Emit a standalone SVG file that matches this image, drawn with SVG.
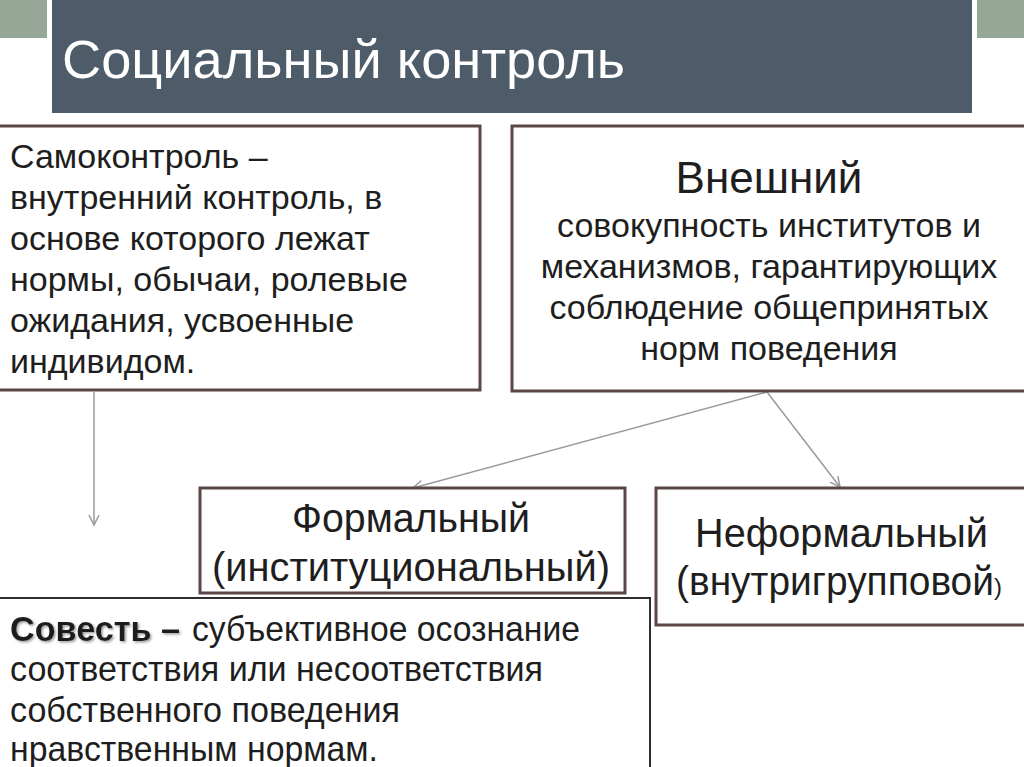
<svg xmlns="http://www.w3.org/2000/svg" width="1024" height="767" viewBox="0 0 1024 767">
<style>
.box{fill:#fff;stroke:#5a4644;stroke-width:3}
.t{font-family:"Liberation Sans",Arial,sans-serif;fill:#1e1e1e}
.n{font-family:"Liberation Sans",Arial,sans-serif;fill:#1e1e1e}
.c{stroke:#9a9a9a;stroke-width:1.5;fill:none}
</style>
<defs>
<marker id="ah" markerWidth="14" markerHeight="14" refX="12" refY="7" orient="auto" markerUnits="userSpaceOnUse">
<path d="M2,2 L12,7 L2,12" fill="none" stroke="#9a9a9a" stroke-width="1.5"/>
</marker>
<filter id="sh" x="-5%" y="-20%" width="120%" height="150%">
<feDropShadow dx="1.5" dy="1.5" stdDeviation="1" flood-color="#888" flood-opacity="0.8"/>
</filter>
</defs>
<rect width="1024" height="767" fill="#fff"/>
<g id="header">
<rect x="0" y="0" width="47" height="38" fill="#97a797"/>
<rect x="977" y="0" width="47" height="38" fill="#97a797"/>
<rect x="52" y="0" width="920" height="113" fill="#4e5b68"/>
<text x="62" y="78" font-family="Liberation Sans,Arial,sans-serif" font-size="54" fill="#fff" textLength="563" lengthAdjust="spacingAndGlyphs">Социальный контроль</text>
</g>
<g id="connectors">
<line class="c" x1="94" y1="392" x2="94" y2="525" marker-end="url(#ah)"/>
<line class="c" x1="767" y1="392" x2="413" y2="488" marker-end="url(#ah)"/>
<line class="c" x1="767" y1="392" x2="840" y2="487" marker-end="url(#ah)"/>
</g>
<g id="self-control">
<rect class="box" x="-3" y="126" width="483" height="264"/>
<g class="t" font-size="34">
<text x="10" y="168">Самоконтроль –</text>
<text x="10" y="209">внутренний контроль, в</text>
<text x="10" y="250">основе которого лежат</text>
<text x="10" y="291">нормы, обычаи, ролевые</text>
<text x="10" y="332">ожидания, усвоенные</text>
<text x="10" y="373">индивидом.</text>
</g>
</g>
<g id="external">
<rect class="box" x="512" y="126" width="520" height="265"/>
<g class="t" text-anchor="middle">
<text x="769" y="193" font-size="44">Внешний</text>
<text x="769" y="237" font-size="34">совокупность институтов и</text>
<text x="769" y="278" font-size="34">механизмов, гарантирующих</text>
<text x="769" y="319" font-size="34">соблюдение общепринятых</text>
<text x="769" y="360" font-size="34">норм поведения</text>
</g>
</g>
<g id="formal">
<rect class="box" x="200" y="488" width="425" height="105"/>
<g class="n" font-size="40">
<text x="292" y="532" textLength="238" lengthAdjust="spacingAndGlyphs">Формальный</text>
<text x="212" y="581" textLength="398" lengthAdjust="spacingAndGlyphs">(институциональный)</text>
</g>
</g>
<g id="informal">
<rect class="box" x="656" y="488" width="380" height="137"/>
<g class="n" font-size="40">
<text x="695" y="547" textLength="293" lengthAdjust="spacingAndGlyphs">Неформальный</text>
<text x="676" y="595"><tspan textLength="318" lengthAdjust="spacingAndGlyphs">(внутригрупповой</tspan><tspan font-size="24">)</tspan></text>
</g>
</g>
<g id="conscience">
<rect x="-3" y="598" width="653" height="180" fill="#fff" stroke="#2e2e2e" stroke-width="2"/>
<g class="n" font-size="35">
<text x="10" y="641"><tspan font-weight="bold" filter="url(#sh)" textLength="170" lengthAdjust="spacingAndGlyphs">Совесть –</tspan></text>
<text x="192" y="641" textLength="388" lengthAdjust="spacingAndGlyphs">субъективное осознание</text>
<text x="10" y="681" textLength="533" lengthAdjust="spacingAndGlyphs">соответствия или несоответствия</text>
<text x="10" y="722" textLength="390" lengthAdjust="spacingAndGlyphs">собственного поведения</text>
<text x="10" y="761" textLength="368" lengthAdjust="spacingAndGlyphs">нравственным нормам.</text>
</g>
</g>
</svg>
